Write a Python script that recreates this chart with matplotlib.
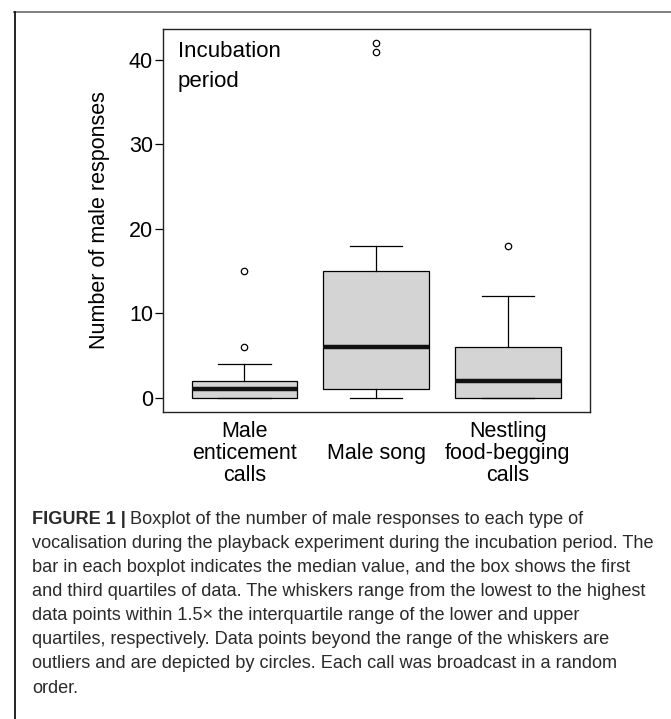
import matplotlib
matplotlib.use("Agg")
import matplotlib.pyplot as plt
from matplotlib.lines import Line2D

# ---- data ----
categories = ["Male\nenticement\ncalls", "Male song", "Nestling\nfood-begging\ncalls"]
whisker_low = [0, 0, 0]
q1 = [0, 1, 0]
median = [1, 6, 2]
q3 = [2, 15, 6]
whisker_high = [4, 18, 12]
outliers = [[6, 15], [41, 42], [18]]
y_ticks = [0, 10, 20, 30, 40]

caption_lines = [
    "Boxplot of the number of male responses to each type of",
    "vocalisation during the playback experiment during the incubation period. The",
    "bar in each boxplot indicates the median value, and the box shows the first",
    "and third quartiles of data. The whiskers range from the lowest to the highest",
    "data points within 1.5\u00d7 the interquartile range of the lower and upper",
    "quartiles, respectively. Data points beyond the range of the whiskers are",
    "outliers and are depicted by circles. Each call was broadcast in a random",
    "order.",
]

W, H = 671, 719
fig = plt.figure(figsize=(W / 100, H / 100), dpi=100)
plt.rcParams['font.family'] = ['Liberation Sans', 'DejaVu Sans']


def px(x, y):
    return x / W, 1 - y / H


ax_l, ax_r, ax_t, ax_b = 162.6, 589.6, 29.0, 411.7
ax = fig.add_axes([ax_l / W, 1 - ax_b / H, (ax_r - ax_l) / W, (ax_b - ax_t) / H])

stats = []
for i in range(len(categories)):
    stats.append(dict(med=median[i], q1=q1[i], q3=q3[i], whislo=whisker_low[i],
                      whishi=whisker_high[i], fliers=outliers[i]))
positions = list(range(1, len(categories) + 1))
ax.bxp(stats, positions=positions, widths=0.8, patch_artist=True, showfliers=True,
       boxprops=dict(facecolor="#d4d4d4", edgecolor="black", linewidth=0.9),
       medianprops=dict(color="#111111", linewidth=3.2, solid_capstyle="butt"),
       whiskerprops=dict(color="black", linewidth=0.9),
       capprops=dict(color="black", linewidth=0.9),
       capwidths=0.4,
       flierprops=dict(marker="o", markersize=4.6, markerfacecolor="none",
                       markeredgecolor="black", markeredgewidth=0.9))

ax.set_xlim(0.38, 3.62)
ax.set_ylim(-1.68, 43.68)
ax.set_yticks(y_ticks)
ax.set_yticklabels([str(v) for v in y_ticks])
ax.set_xticks(positions)
ax.set_xticklabels(categories, fontsize=15.5, linespacing=1.07)
for lbl in ax.get_xticklabels():
    lbl.set_verticalalignment("center")
    lbl.set_multialignment("center")
ax.tick_params(axis="x", length=0, pad=30)
ax.tick_params(axis="y", length=5.5, width=0.9, pad=1.5, labelsize=15.5, color="black")
for s in ax.spines.values():
    s.set_linewidth(1.0)
    s.set_color("#222222")

ax.set_ylabel("Number of male responses", fontsize=15.5, va="center")
ax.yaxis.set_label_coords((99.5 - ax_l) / (ax_r - ax_l), 0.5)

# panel label
def ax_frac(x, y):
    return (x - ax_l) / (ax_r - ax_l), (ax_b - y) / (ax_b - ax_t)

ax.text(*ax_frac(177.5, 57.3), "Incubation", transform=ax.transAxes, fontsize=16,
        va="baseline", ha="left")
ax.text(*ax_frac(177.5, 87.3), "period", transform=ax.transAxes, fontsize=16,
        va="baseline", ha="left")

# outer border (top and left)
fig.add_artist(Line2D([px(14, 0)[0], 1.0], [px(0, 12)[1]] * 2, transform=fig.transFigure,
                      color="#777777", linewidth=1.3))
fig.add_artist(Line2D([px(14.5, 0)[0]] * 2, [px(0, 11.5)[1], 0.0], transform=fig.transFigure,
                      color="#111111", linewidth=1.3))

# caption
renderer = fig.canvas.get_renderer()
cap_size = 11.3
probe = fig.text(0, 0, caption_lines[1], fontsize=cap_size)
wpx = probe.get_window_extent(renderer).width
probe.remove()
cap_size = cap_size * 627.0 / wpx

cap_x = 32.0
base0 = 523.5
dy = 24.15
cap_color = "#2a2a2a"
for i, line in enumerate(caption_lines):
    y = base0 + dy * i
    if i == 0:
        t = fig.text(*px(cap_x, y), "FIGURE 1 |", fontsize=cap_size, fontweight="bold",
                     va="baseline", ha="left", color=cap_color)
        bw = t.get_window_extent(renderer).width
        fig.text(*px(cap_x + bw + cap_size * 0.35, y), line, fontsize=cap_size,
                 va="baseline", ha="left", color=cap_color)
    else:
        fig.text(*px(cap_x, y), line, fontsize=cap_size, va="baseline", ha="left",
                 color=cap_color)

fig.savefig("out.png", dpi=100)
